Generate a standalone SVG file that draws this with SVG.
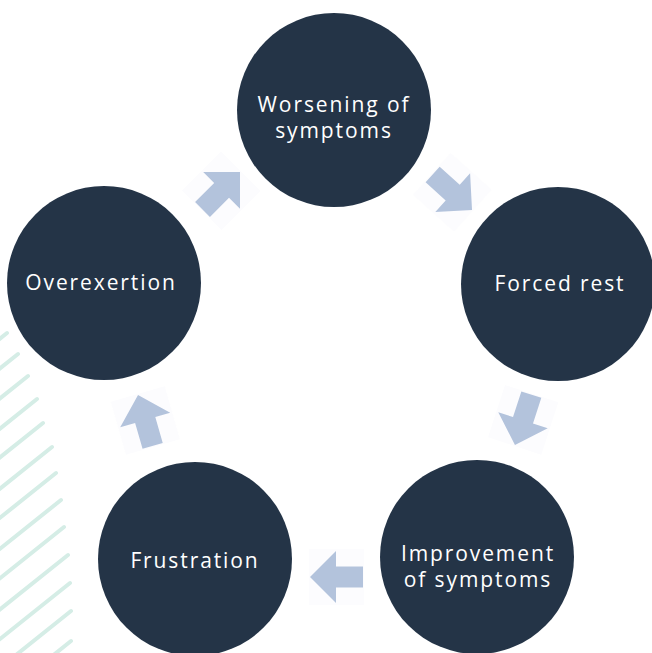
<svg xmlns="http://www.w3.org/2000/svg" xmlns:xlink="http://www.w3.org/1999/xlink" width="652" height="653" viewBox="0 0 652 653">
<style>
.node{fill:#243447}
.lbl{fill:#ffffff;font-family:"Open Sans","DejaVu Sans",sans-serif;font-weight:500;font-size:21px;letter-spacing:1.9px;text-anchor:middle}
.stripe{stroke:#d5ede6;stroke-width:4;stroke-linecap:round;fill:none}
.arrbg{fill:#fcfcfe}
.arr{fill:#b3c3dc}
</style>
<defs>
<g id="arrow">
<rect class="arrbg" x="-28" y="-28" width="55" height="56"/>
<polygon class="arr" points="26,0 0,-26 0,-10.5 -27,-10.5 -27,10.5 0,10.5 0,26"/>
</g>
</defs>
<rect width="652" height="653" fill="#ffffff"/>
<g id="stripes">
<line class="stripe" x1="-5" y1="342.6" x2="7" y2="333"/>
<line class="stripe" x1="-5" y1="372.4" x2="18" y2="354"/>
<line class="stripe" x1="-5" y1="402.4" x2="28" y2="376"/>
<line class="stripe" x1="-5" y1="432.6" x2="37" y2="399"/>
<line class="stripe" x1="-5" y1="461.4" x2="43" y2="423"/>
<line class="stripe" x1="-5" y1="492.6" x2="52" y2="447"/>
<line class="stripe" x1="-5" y1="521.8" x2="56" y2="473"/>
<line class="stripe" x1="-5" y1="552.8" x2="61" y2="500"/>
<line class="stripe" x1="-5" y1="582.2" x2="64" y2="527"/>
<line class="stripe" x1="-5" y1="613.4" x2="68" y2="555"/>
<line class="stripe" x1="-5" y1="643" x2="70" y2="583"/>
<line class="stripe" x1="-5" y1="671.8" x2="71" y2="611"/>
<line class="stripe" x1="-5" y1="701.8" x2="71" y2="641"/>
</g>
<g id="connectors">
<use xlink:href="#arrow" transform="translate(221.6,190.4) rotate(-45)"/>
<use xlink:href="#arrow" transform="translate(452.7,192.6) rotate(42)"/>
<use xlink:href="#arrow" transform="translate(523,420.3) rotate(108)"/>
<use xlink:href="#arrow" transform="translate(336,577) rotate(180)"/>
<use xlink:href="#arrow" transform="translate(145.2,420) rotate(-106)"/>
</g>
<g id="node-worsening">
<circle class="node" cx="334" cy="110" r="97"/>
<text class="lbl" x="334" y="112">Worsening of</text>
<text class="lbl" x="334" y="138">symptoms</text>
</g>
<g id="node-forced-rest">
<circle class="node" cx="558" cy="284" r="97"/>
<text class="lbl" x="560" y="291">Forced rest</text>
</g>
<g id="node-improvement">
<circle class="node" cx="477" cy="557" r="97"/>
<text class="lbl" x="478" y="561">Improvement</text>
<text class="lbl" x="478" y="587">of symptoms</text>
</g>
<g id="node-frustration">
<circle class="node" cx="195" cy="559" r="97"/>
<text class="lbl" x="195" y="568">Frustration</text>
</g>
<g id="node-overexertion">
<circle class="node" cx="104" cy="283" r="97"/>
<text class="lbl" x="101" y="290">Overexertion</text>
</g>
</svg>
